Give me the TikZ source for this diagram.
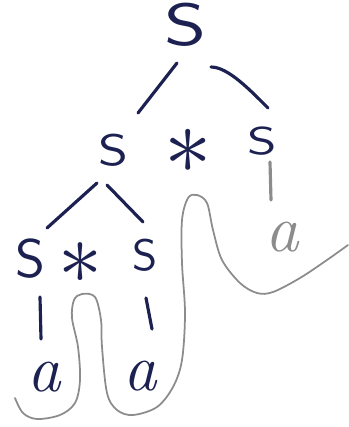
\documentclass[tikz,border=0pt]{standalone}
\usepackage{amsmath}
\usepackage{amssymb}

\definecolor{ink}{HTML}{1C2152}
\definecolor{pencil}{HTML}{8C8C8C}

\newcommand{\wideS}[1]{\scalebox{#1}[1]{\sffamily S}}

\tikzset{
    sym/.style={text=ink, inner sep=1pt},
    faint/.style={text=pencil, inner sep=1pt},
    branch/.style={draw=ink, line width=0.9pt, line cap=round},
    sketch/.style={draw=pencil, line width=0.5pt, line cap=round}
}

\begin{document}
\begin{tikzpicture}[x=0.01cm, y=-0.01cm]
    \path[use as bounding box] (0,0) rectangle (349,427);

    \node[sym, font=\fontsize{17}{17}\selectfont]           (s0)  at (186,25)  {\wideS{1.35}};
    \node[sym, font=\fontsize{12.5}{12.5}\selectfont]       (s1)  at (113,150) {\wideS{1.25}};
    \node[sym]                                              (st1) at (188,151) {\scalebox{2.7}{$\ast$}};
    \node[sym, font=\fontsize{11}{11}\selectfont]           (s2)  at (262,141) {\wideS{1.4}};
    \node[sym, font=\fontsize{15.5}{15.5}\selectfont]       (s3)  at (30,259)  {\wideS{1.05}};
    \node[sym]                                              (st2) at (80,263)  {\scalebox{2.5}{$\ast$}};
    \node[sym, font=\fontsize{12.5}{12.5}\selectfont]       (s4)  at (145,255) {\wideS{1.05}};
    \node[sym, font=\fontsize{19}{19}\selectfont\itshape]   (a1)  at (44,377)  {a};
    \node[sym, font=\fontsize{19}{19}\selectfont\itshape]   (a2)  at (140,376) {a};
    \node[faint, font=\fontsize{19}{19}\selectfont\itshape] (a3)  at (282,237) {a};

    \draw[branch] ([shift={(-9,38)}]s0.center) -- ([shift={(25,-37)}]s1.center);
    \draw[branch] ([shift={(25,42)}]s0.center) .. controls +(17,0) and +(-18,-18) .. ([shift={(6,-33)}]s2.center);
    \draw[branch] ([shift={(-16,33)}]s1.center) -- ([shift={(17,-31)}]s3.center);
    \draw[branch] ([shift={(-6,35)}]s1.center) -- ([shift={(-2,-33)}]s4.center);
    \draw[branch] ([shift={(10,38)}]s3.center) -- ([shift={(-3,-38)}]a1.center);
    \draw[branch] ([shift={(1,43)}]s4.center) -- ([shift={(12,-47)}]a2.center);
    \draw[sketch, line width=0.9pt] ([shift={(8,21)}]s2.center) -- ([shift={(-11,-37)}]a3.center);

    \draw[sketch] plot[smooth, tension=0.55] coordinates {
        (15,398) (23,413) (37,419) (60,415) (75,403) (80,380) (78,347)
        (72,318) (74,300) (82,294) (95,297) (101,320) (102,347) (107,393)
        (117,410) (133,415) (157,407) (173,387) (182,360) (185,313)
        (182,263) (182,220) (188,198) (197,195) (207,203) (213,230)
        (222,260) (240,283) (257,293) (273,292) (300,278) (327,260) (348,245)};
\end{tikzpicture}
\end{document}
